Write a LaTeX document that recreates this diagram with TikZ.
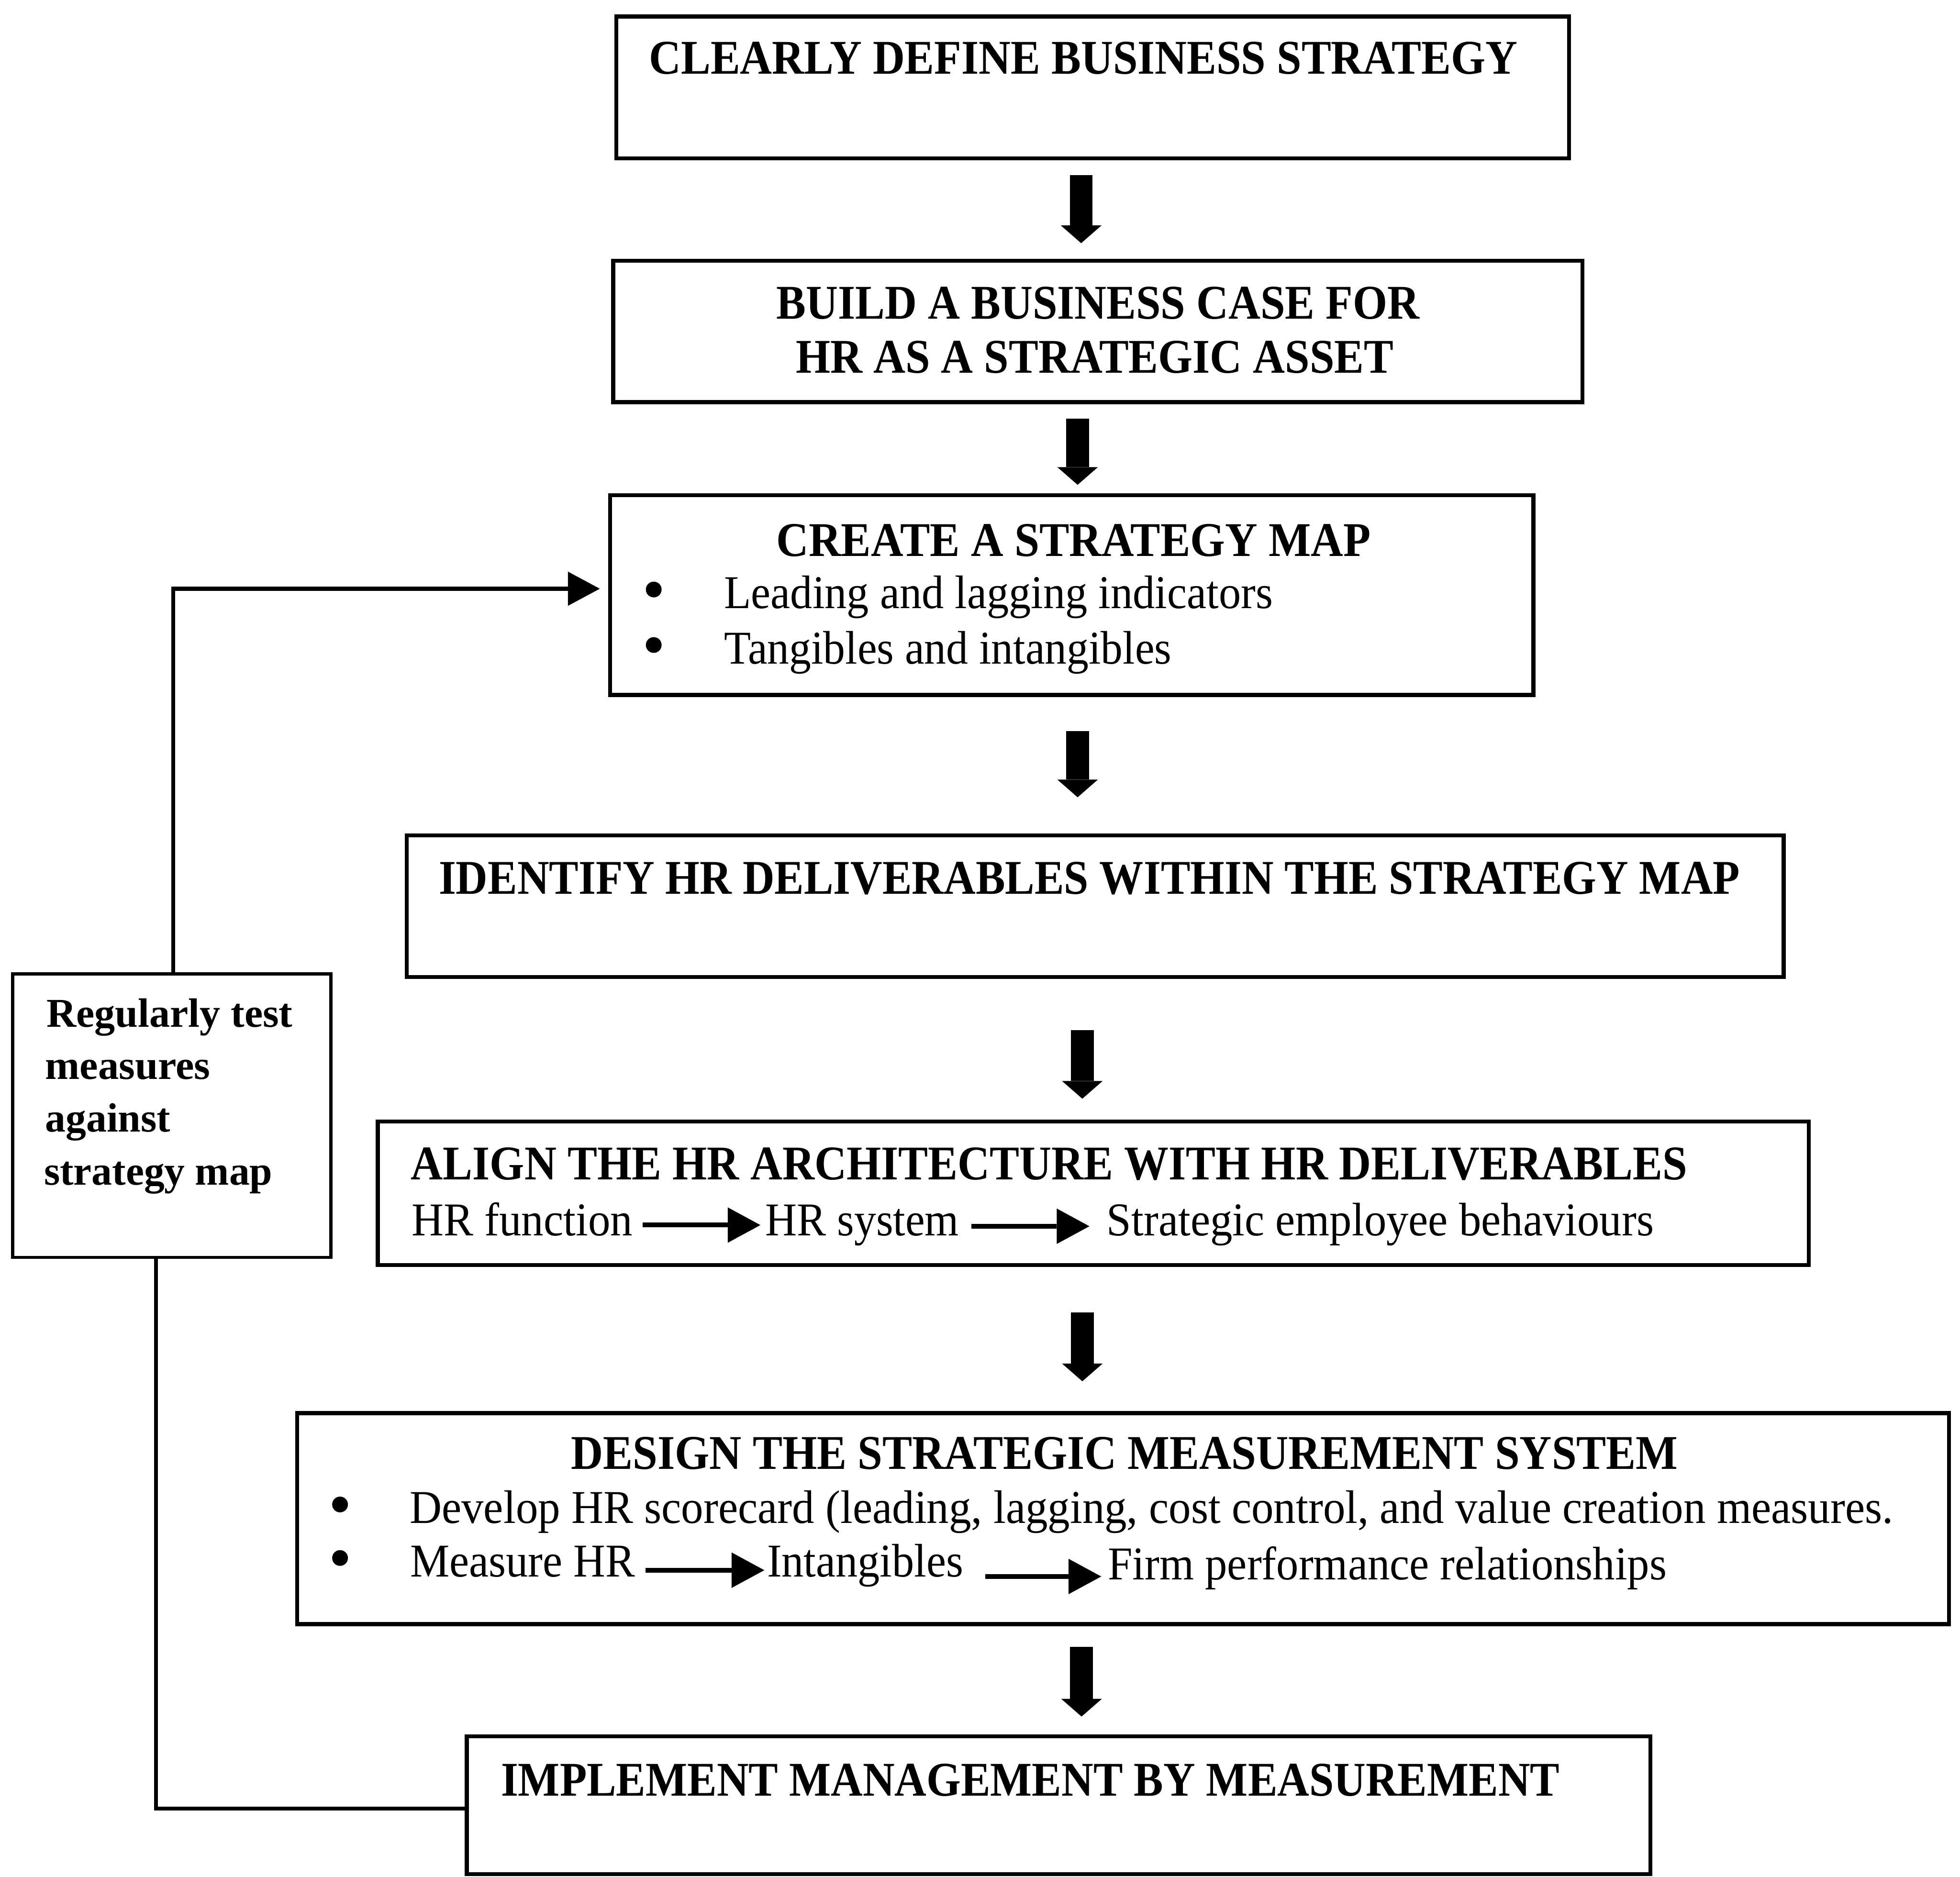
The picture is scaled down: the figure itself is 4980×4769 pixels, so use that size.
\documentclass[tikz,border=0pt]{standalone}
\usepackage{fontspec}
\setmainfont{Liberation Serif}
\usepackage{graphicx}
\usetikzlibrary{arrows.meta,fit}

% set a line to an exact width, keeping its height
\newcommand\fw[2]{\resizebox{#1}{\height}{#2}}

\begin{document}
\begin{tikzpicture}[x=0.01cm,y=-0.01cm,
  box/.style={draw, line width=0.1cm, inner sep=0pt, outer sep=0pt},
  sidebox/.style={draw, line width=0.08cm, inner sep=0pt, outer sep=0pt},
  head/.style={inner sep=0pt, outer sep=0pt, anchor=base west, font=\fontsize{35}{42}\selectfont\bfseries},
  body/.style={inner sep=0pt, outer sep=0pt, anchor=base west, font=\fontsize{34}{41}\selectfont},
  note/.style={inner sep=0pt, outer sep=0pt, anchor=base west, font=\fontsize{29.6}{38}\selectfont\bfseries},
  dot/.style={circle, fill, draw=none, inner sep=0pt, minimum size=0.4cm},
  bigarrow/.style={line width=0.58cm, -{Triangle[length=0.45cm,width=1.03cm,line width=0pt]}},
  inl/.style={line width=0.12cm, -{Triangle[length=0.83cm,width=0.9cm,line width=0pt]}},
  loopline/.style={line width=0.1cm},
]
\fill[white] (0,0) rectangle (4980,4769);
\useasboundingbox (0,0) rectangle (4980,4769);

% ---- step boxes ----
\node[box, fit={(1566,42) (3987,402)}] (b1) {};
\node[box, fit={(1558,663) (4021,1022)}] (b2) {};
\node[box, fit={(1550,1258) (3896,1766)}] (b3) {};
\node[box, fit={(1033,2123) (4532,2483)}] (b4) {};
\node[box, fit={(960,2850) (4596,3215)}] (b5) {};
\node[box, fit={(755,3591) (4952,4127)}] (b6) {};
\node[box, fit={(1186,4412) (4193,4762)}] (b7) {};
\node[sidebox, fit={(32,2475) (841,3195)}] (lb) {};

% ---- box texts ----
\node[head] (t1) at (1649,188) {\fw{22.06cm}{CLEARLY DEFINE BUSINESS STRATEGY}};

\node[head] (t2a) at (1973,810) {\fw{16.33cm}{BUILD A BUSINESS CASE FOR}};
\node[head] (t2b) at (2022,948) {\fw{15.18cm}{HR AS A STRATEGIC ASSET}};

\node[head] (t3) at (1973,1413) {\fw{15.09cm}{CREATE A STRATEGY MAP}};
\node[dot] (d3a) at (1661,1498) {};
\node[dot] (d3b) at (1661,1639) {};
\node[body] (t3a) at (1840,1546) {\fw{13.93cm}{Leading and lagging indicators}};
\node[body] (t3b) at (1840,1687) {\fw{11.36cm}{Tangibles and intangibles}};

\node[head] (t4) at (1115,2272) {\fw{33.04cm}{IDENTIFY HR DELIVERABLES WITHIN THE STRATEGY MAP}};

\node[head] (t5) at (1044,2998) {\fw{32.41cm}{ALIGN THE HR ARCHITECTURE WITH HR DELIVERABLES}};
\node[body] (t5a) at (1046,3140) {\fw{5.61cm}{HR function}};
\node[body] (t5b) at (1945,3140) {\fw{4.91cm}{HR system}};
\node[body] (t5c) at (2812,3140) {\fw{13.89cm}{Strategic employee behaviours}};

\node[head] (t6) at (1451,3733) {\fw{28.11cm}{DESIGN THE STRATEGIC MEASUREMENT SYSTEM}};
\node[dot] (d6a) at (864,3823) {};
\node[dot] (d6b) at (864,3959) {};
\node[body] (t6a) at (1041,3870) {\fw{37.67cm}{Develop HR scorecard (leading, lagging, cost control, and value creation measures.}};
\node[body] (t6b) at (1042,4007) {\fw{5.71cm}{Measure HR}};
\node[body] (t6c) at (1949,4007) {\fw{4.98cm}{Intangibles}};
\node[body] (t6d) at (2815,4014) {\fw{14.19cm}{Firm performance relationships}};

\node[head] (t7) at (1273,4563) {\fw{26.88cm}{IMPLEMENT MANAGEMENT BY MEASUREMENT}};

\node[note] (l1) at (118,2610) {\fw{6.25cm}{Regularly test}};
\node[note] (l2) at (115,2742) {\fw{4.19cm}{measures}};
\node[note] (l3) at (115,2876) {\fw{3.18cm}{against}};
\node[note] (l4) at (112,3011) {\fw{5.80cm}{strategy map}};

% ---- inline arrows ----
\draw[inl] ([shift={(25,-27)}]t5a.base east) -- ([shift={(-13,-27)}]t5b.base west);
\draw[inl] ([shift={(32,-24)}]t5b.base east) -- ([shift={(-44,-24)}]t5c.base west);
\draw[inl] ([shift={(27,-17)}]t6b.base east) -- ([shift={(-7,-17)}]t6c.base west);
\draw[inl] ([shift={(56,-1)}]t6c.base east) -- ([shift={(-17,-8)}]t6d.base west);

% ---- flow arrows between steps ----
\coordinate (ax1) at (2747,0);
\coordinate (ax2) at (2738,0);
\coordinate (ax3) at (2738,0);
\coordinate (ax4) at (2750,0);
\coordinate (ax5) at (2750,0);
\coordinate (ax6) at (2748,0);
\draw[bigarrow, shorten <=0.43cm, shorten >=0.45cm] (b1.south -| ax1) -- (b2.north -| ax1);
\draw[bigarrow, shorten <=0.42cm, shorten >=0.26cm] (b2.south -| ax2) -- (b3.north -| ax2);
\draw[bigarrow, shorten <=0.92cm, shorten >=0.97cm] (b3.south -| ax3) -- (b4.north -| ax3);
\draw[bigarrow, shorten <=1.34cm, shorten >=0.58cm] (b4.south -| ax4) -- (b5.north -| ax4);
\draw[bigarrow, shorten <=1.20cm, shorten >=0.81cm] (b5.south -| ax5) -- (b6.north -| ax5);
\draw[bigarrow, shorten <=0.58cm, shorten >=0.50cm] (b6.south -| ax6) -- (b7.north -| ax6);

% ---- feedback loop ----
\coordinate (c1) at (396,4596);
\coordinate (c2) at (440,1496);
\draw[loopline] (b7.west |- c1) -- (c1) -- (c1 |- lb.south);
\draw[loopline, -{Triangle[length=0.81cm,width=0.87cm,line width=0pt]}, shorten >=0.26cm]
  (lb.north -| c2) -- (c2) -- (c2 -| b3.west);
\end{tikzpicture}
\end{document}
